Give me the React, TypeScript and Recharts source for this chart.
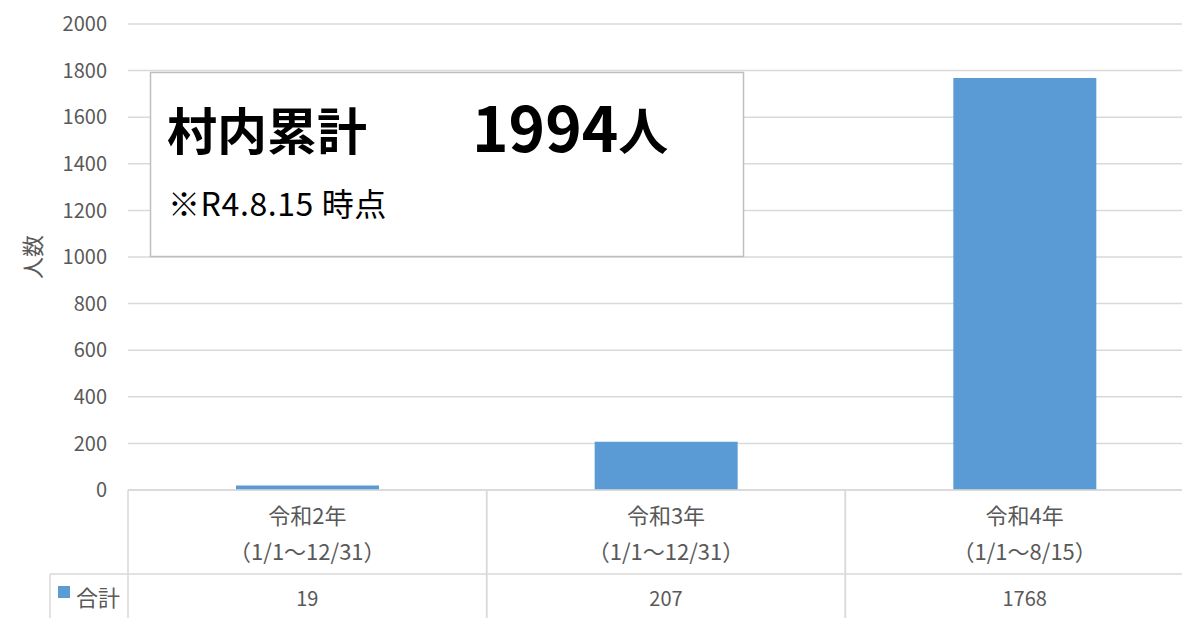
import React from 'react';
import { BarChart, Bar, XAxis, YAxis, CartesianGrid } from 'recharts';

const categories = ['令和2年', '令和3年', '令和4年'];
const periods = ['（1/1〜12/31）', '（1/1〜12/31）', '（1/1〜8/15）'];
const totals = [19, 207, 1768];
const yTicks = [0, 200, 400, 600, 800, 1000, 1200, 1400, 1600, 1800, 2000];
const seriesName = '合計';
const yLabel = '人数';
const boxTitle = '村内累計';
const boxTotal = '1994';
const boxUnit = '人';
const boxNote = '※R4.8.15 時点';

const data = categories.map((c, i) => ({ name: c, period: periods[i], value: totals[i] }));

const W = 1204;
const H = 618;
const LEFT = 128;
const TOP = 24;
const AXIS_H = 128;
const BAND = (W - LEFT) / categories.length;
const GRID = '#d9d9d9';
const TXT = '#595959';
const BLUE = '#5b9bd5';
const FONT = "'Noto Sans CJK JP', 'Noto Sans', sans-serif";

function TableTick(props: any) {
  const { x, y, payload } = props;
  const i = categories.indexOf(payload.value);
  const half = BAND / 2;
  const top = y;
  return (
    <g>
      <line x1={x - half} y1={top} x2={x - half} y2={H} stroke={GRID} strokeWidth={1.5} />
      <line x1={x + half} y1={top} x2={x + half} y2={H} stroke={GRID} strokeWidth={1.5} />
      <line x1={x - half} y1={top + 84} x2={x + half} y2={top + 84} stroke={GRID} strokeWidth={1.5} />
      <text x={x} y={top + 24} textAnchor="middle" dominantBaseline="central" fill={TXT} fontSize={22} fontFamily={FONT}>
        {categories[i]}
      </text>
      <text x={x} y={top + 60} textAnchor="middle" dominantBaseline="central" fill={TXT} fontSize={22} fontFamily={FONT}>
        {periods[i]}
      </text>
      <text x={x} y={top + 107} textAnchor="middle" dominantBaseline="central" fill={TXT} fontSize={20} fontFamily={FONT}>
        {totals[i]}
      </text>
      {i === 0 && (
        <g>
          <line x1={50} y1={top + 84} x2={x - half} y2={top + 84} stroke={GRID} strokeWidth={1.5} />
          <line x1={50} y1={top + 84} x2={50} y2={H} stroke={GRID} strokeWidth={1.5} />
          <rect x={58} y={top + 96} width={12} height={12} fill={BLUE} />
          <text x={76} y={top + 106} dominantBaseline="central" fill={TXT} fontSize={22} fontFamily={FONT}>
            {seriesName}
          </text>
        </g>
      )}
    </g>
  );
}

export default function App() {
  return (
    <div
      style={{
        position: 'absolute',
        left: 0,
        top: 0,
        width: 1182,
        height: 618,
        overflow: 'hidden',
        background: '#fff',
        fontFamily: FONT,
      }}
    >
      <BarChart width={W} height={H} data={data} margin={{ top: TOP, right: 0, bottom: 0, left: 0 }} barCategoryGap={0}>
        <CartesianGrid vertical={false} stroke={GRID} strokeWidth={1.5} />
        <XAxis
          dataKey="name"
          height={AXIS_H}
          interval={0}
          tickSize={0}
          tickMargin={0}
          tickLine={false}
          axisLine={{ stroke: GRID, strokeWidth: 1.5 }}
          tick={<TableTick />}
        />
        <YAxis
          width={LEFT}
          domain={[0, 2000]}
          ticks={yTicks}
          interval={0}
          tickLine={false}
          axisLine={false}
          tickSize={0}
          tickMargin={21}
          tick={{ fill: TXT, fontSize: 20, fontFamily: FONT }}
        />
        <Bar dataKey="value" fill={BLUE} barSize={143} isAnimationActive={false} />
      </BarChart>
      <svg
        width={1182}
        height={618}
        style={{ position: 'absolute', left: 0, top: 0, pointerEvents: 'none' }}
      >
        <text
          x={31}
          y={257}
          transform="rotate(-90 31 257)"
          textAnchor="middle"
          dominantBaseline="central"
          fill={TXT}
          fontSize={22}
          fontFamily={FONT}
        >
          {yLabel}
        </text>
        <rect x={150.5} y={72.5} width={593} height={184} fill="#fff" stroke="#bfbfbf" strokeWidth={1.5} />
        <text x={167} y={150} fill="#000" fontSize={50} fontWeight="bold" fontFamily={FONT}>
          {boxTitle}
        </text>
        <text x={472} y={152} fill="#000" fontWeight="bold" fontFamily={FONT}>
          <tspan fontSize={62}>{boxTotal}</tspan>
          <tspan fontSize={50} dy={-2}>{boxUnit}</tspan>
        </text>
        <text x={168} y={216} fill="#000" fontSize={32} letterSpacing={0.6} fontFamily={FONT}>
          {boxNote}
        </text>
      </svg>
    </div>
  );
}
